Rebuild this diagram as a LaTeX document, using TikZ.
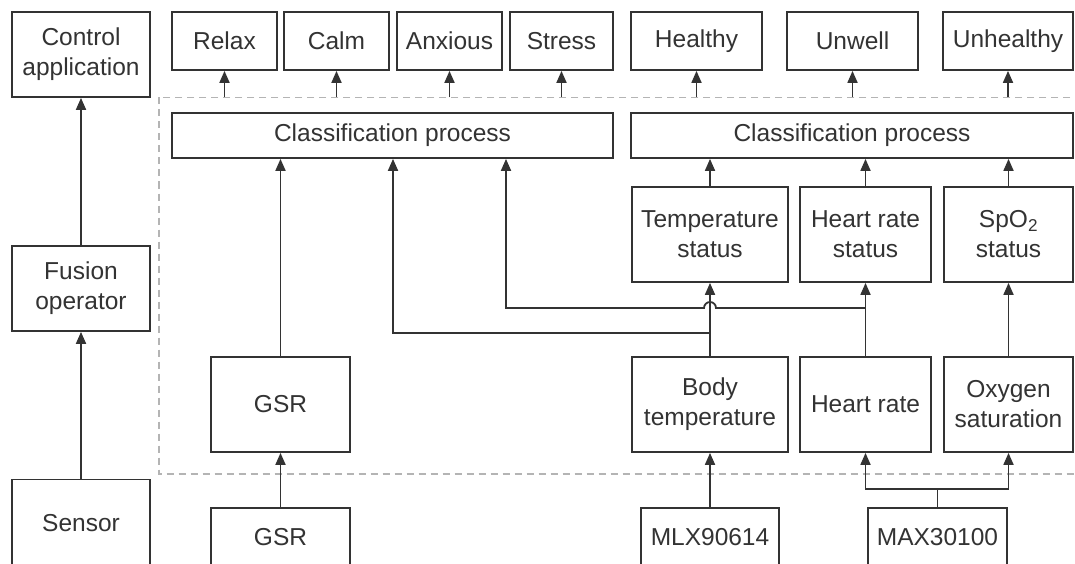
\documentclass[tikz,border=0pt]{standalone}
\usepackage{fontspec}
\setmainfont{Liberation Sans}
\usetikzlibrary{arrows.meta}
\definecolor{ink}{HTML}{333333}
\definecolor{dashgray}{HTML}{B4B4B4}
\begin{document}
\begin{tikzpicture}[x=1pt,y=-1pt,
  box/.style={draw=ink,line width=1.8pt,inner sep=0pt,align=center,text=ink,
    font=\fontsize{24.5}{30}\selectfont},
  arr/.style={draw=ink,line width=1.8pt,-{Triangle[length=12pt,width=10pt]}},
  ln/.style={draw=ink,line width=1.8pt},
  frame/.style={draw=dashgray,line width=1.3pt,dash pattern=on 7pt off 5pt}]
\useasboundingbox (0,0) rectangle (1075,564);
\clip (0,0) rectangle (1075,564);
\fill[white] (0,0) rectangle (1075,564);

% dashed frame
\draw[frame] (159,97.5) rectangle (1090,474);

% helper coordinates
\coordinate (dtop) at (0,97.5);
\coordinate (hy) at (0,308);
\coordinate (ty) at (0,333);
\coordinate (my) at (0,489);
\coordinate (c1) at (393,0);
\coordinate (c2) at (506,0);

% left column
\node[box,minimum width=138pt,minimum height=85pt] (ctrl) at (81,54.5) {Control\\application};
\node[box,minimum width=138pt,minimum height=85pt] (fusion) at (81,288.5) {Fusion\\operator};
\node[box,minimum width=138pt,minimum height=87pt] (sensor) at (81,523) {Sensor};

% outputs
\node[box,minimum width=105pt,minimum height=58pt] (relax) at (224.5,41) {Relax};
\node[box,minimum width=105pt,minimum height=58pt] (calm) at (336.5,41) {Calm};
\node[box,minimum width=105pt,minimum height=58pt] (anx) at (449.5,41) {Anxious};
\node[box,minimum width=103pt,minimum height=58pt] (stress) at (561.5,41) {Stress};
\node[box,minimum width=131pt,minimum height=58pt] (healthy) at (696.5,41) {Healthy};
\node[box,minimum width=131pt,minimum height=58pt] (unwell) at (852.5,41) {Unwell};
\node[box,minimum width=130pt,minimum height=58pt] (unhealthy) at (1008,41) {Unhealthy};

% classification
\node[box,minimum width=441pt,minimum height=45pt] (class1) at (392.5,135.5) {Classification process};
\node[box,minimum width=442pt,minimum height=45pt] (class2) at (852,135.5) {Classification process};

% status
\node[box,minimum width=156pt,minimum height=95pt] (tstat) at (710,234.5) {Temperature\\status};
\node[box,minimum width=131pt,minimum height=95pt] (hstat) at (865.5,234.5) {Heart rate\\status};
\node[box,minimum width=129pt,minimum height=95pt] (sstat) at (1008.5,234.5) {SpO\textsubscript{2}\\status};

% measurements
\node[box,minimum width=139pt,minimum height=95pt] (gsr1) at (280.5,404.5) {GSR};
\node[box,minimum width=156pt,minimum height=95pt] (bodyt) at (710,404.5) {Body\\temperature};
\node[box,minimum width=131pt,minimum height=95pt] (hr) at (865.5,404.5) {Heart rate};
\node[box,minimum width=129pt,minimum height=95pt] (oxy) at (1008.5,404.5) {Oxygen\\saturation};

% sensors
\node[box,minimum width=139pt,minimum height=58pt] (gsr2) at (280.5,537) {GSR};
\node[box,minimum width=138pt,minimum height=58pt] (mlx) at (710,537) {MLX90614};
\node[box,minimum width=139pt,minimum height=58pt] (max) at (937.5,537) {MAX30100};

% left column arrows
\draw[arr] (sensor.north) -- (fusion.south);
\draw[arr] (fusion.north) -- (ctrl.south);

% outputs from frame
\foreach \n in {relax,calm,anx,stress,healthy,unwell,unhealthy}
  \draw[arr] (\n.south |- dtop) -- (\n.south);

% status to classification
\draw[arr] (tstat.north) -- (tstat.north |- class2.south);
\draw[arr] (hstat.north) -- (hstat.north |- class2.south);
\draw[arr] (sstat.north) -- (sstat.north |- class2.south);

% measurements up
\draw[arr] (gsr1.north) -- (gsr1.north |- class1.south);
\draw[arr] (bodyt.north) -- (tstat.south);
\draw[arr] (hr.north) -- (hstat.south);
\draw[arr] (oxy.north) -- (sstat.south);

% branches to left classification
\draw[arr] (bodyt.north |- ty) -- (c1 |- ty) -- (c1 |- class1.south);
\draw[arr] (hr.north |- hy) -- ([xshift=6pt]bodyt.north |- hy)
  arc[start angle=0,end angle=-180,radius=6] -- (c2 |- hy) -- (c2 |- class1.south);

% sensors up
\draw[arr] (gsr2.north) -- (gsr1.south);
\draw[arr] (mlx.north) -- (bodyt.south);
\draw[ln] (max.north) -- (max.north |- my);
\draw[arr] (max.north |- my) -- (hr.south |- my) -- (hr.south);
\draw[arr] (max.north |- my) -- (oxy.south |- my) -- (oxy.south);
\end{tikzpicture}
\end{document}
